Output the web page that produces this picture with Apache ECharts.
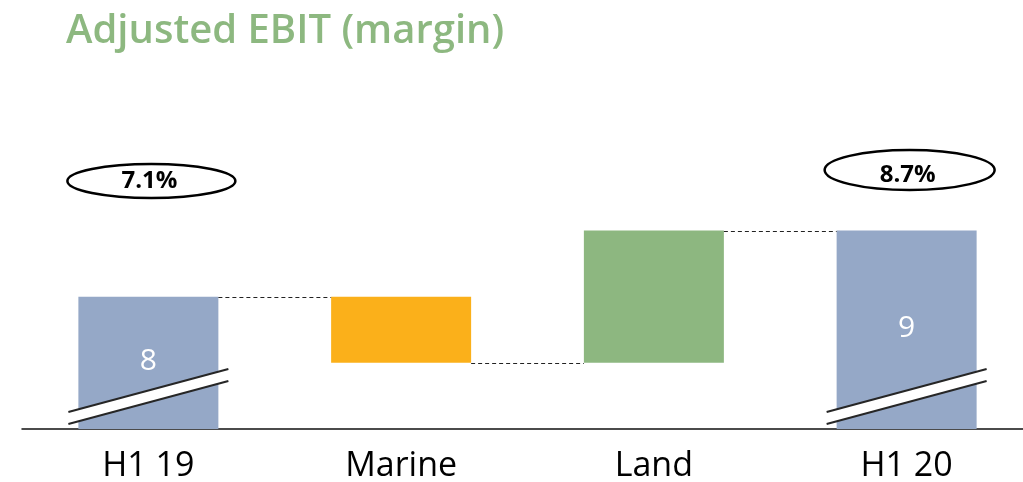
<!DOCTYPE html>
<html>
<head>
<meta charset="utf-8">
<title>Adjusted EBIT (margin)</title>
<script src="https://cdn.jsdelivr.net/npm/echarts@6/dist/echarts.min.js"></script>
<style>
  html, body { margin: 0; padding: 0; background: #ffffff; }
  #chart { width: 1023px; height: 482px; }
</style>
</head>
<body>
<div id="chart"></div>
<script>
// Bridge categories and values
const categories = ['H1 19', 'Marine', 'Land', 'H1 20'];
const totals = [8, null, null, 9];        // period totals (start / end)
const deltas = [null, -1, 2, null];       // segment contributions
const margins = ['7.1%', null, null, '8.7%'];

const FONT = '"Open Sans", "Noto Sans", sans-serif';
const COLOR_TOTAL = '#95A8C7';
const COLOR_DOWN = '#FBB01A';
const COLOR_UP = '#8DB780';
const AXIS_MIN = 6;
const BAR_W = 140;

// Build the waterfall: invisible base + visible segment for each category
const baseData = [];
const barData = [];
const levels = [];   // running level after each category
let level = 0;
categories.forEach((c, i) => {
  if (totals[i] != null) {
    level = totals[i];
    baseData.push(0);
    barData.push({ value: totals[i], itemStyle: { color: COLOR_TOTAL } });
  } else {
    const d = deltas[i];
    const next = level + d;
    baseData.push(Math.min(level, next));
    barData.push({ value: Math.abs(d), itemStyle: { color: d < 0 ? COLOR_DOWN : COLOR_UP } });
    level = next;
  }
  levels.push(level);
});

// Dashed connectors between neighbouring bars, at the running level
const connectorData = levels.slice(0, -1).map((v, i) => [i, v]);

// Axis break marks on the total bars
const breakData = categories.map((c, i) => i).filter(i => totals[i] != null).map(i => [i]);

// Margin badges above the total bars
const badgeData = categories.map((c, i) => i).filter(i => margins[i] != null).map(i => [i]);
const badgeLayout = { 0: { cy: 181, rx: 84, ry: 17, ty: 181 }, 3: { cy: 170, rx: 85, ry: 20, ty: 175 } };

const chart = echarts.init(document.getElementById('chart'), null, { renderer: 'canvas' });

chart.setOption({
  animation: false,
  backgroundColor: '#ffffff',
  title: {
    text: 'Adjusted EBIT (margin)',
    left: 61,
    top: 7,
    textStyle: { fontFamily: FONT, fontSize: 40, fontWeight: 600, color: '#8DB880' }
  },
  // the category band runs slightly past the right edge; the axis line is cut at the edge
  grid: { left: 22, right: -10, top: 32, bottom: 53, outerBoundsMode: 'none' },
  xAxis: {
    type: 'category',
    data: categories,
    axisLine: { lineStyle: { color: '#111111', width: 1.5 } },
    axisTick: { show: false },
    axisLabel: { fontFamily: FONT, fontSize: 34, color: '#000000', margin: 20 }
  },
  yAxis: {
    type: 'value',
    min: AXIS_MIN,
    max: 12,
    show: false,
    splitLine: { show: false }
  },
  series: [
    {
      name: 'base',
      type: 'bar',
      stack: 'bridge',
      barWidth: BAR_W,
      itemStyle: { color: 'transparent' },
      emphasis: { disabled: true },
      data: baseData,
      z: 1
    },
    {
      name: 'EBIT',
      type: 'bar',
      stack: 'bridge',
      barWidth: BAR_W,
      data: barData,
      label: {
        show: true,
        position: 'inside',
        fontFamily: FONT,
        fontSize: 30,
        color: '#ffffff',
        offset: [0, -1],
        formatter: p => (totals[p.dataIndex] != null ? String(totals[p.dataIndex]) : '')
      },
      z: 2
    },
    {
      name: 'connectors',
      type: 'custom',
      data: connectorData,
      silent: true,
      z: 3,
      renderItem: (params, api) => {
        const i = api.value(0);
        const v = api.value(1);
        const a = api.coord([i, v]);
        const b = api.coord([i + 1, v]);
        const y = Math.round(a[1]) + 0.5;
        return {
          type: 'line',
          shape: { x1: a[0] + BAR_W / 2, y1: y, x2: b[0] - BAR_W / 2, y2: y },
          style: { stroke: '#222222', lineWidth: 1, lineDash: [4, 3] }
        };
      }
    },
    {
      name: 'breaks',
      type: 'custom',
      data: breakData,
      silent: true,
      z: 4,
      renderItem: (params, api) => {
        const p = api.coord([api.value(0), AXIS_MIN]);
        const cx = p[0], by = p[1];
        const x1 = cx - 80, x2 = cx + 80;
        const u1 = by - 17, u2 = by - 60, l1 = by - 5, l2 = by - 48;
        return {
          type: 'group',
          children: [
            { type: 'polygon', shape: { points: [[x1, u1], [x2, u2], [x2, l2], [x1, l1]] }, style: { fill: '#ffffff' } },
            { type: 'line', shape: { x1: x1, y1: u1, x2: x2, y2: u2 }, style: { stroke: '#262626', lineWidth: 2 } },
            { type: 'line', shape: { x1: x1, y1: l1, x2: x2, y2: l2 }, style: { stroke: '#262626', lineWidth: 2 } }
          ]
        };
      }
    },
    {
      name: 'margin',
      type: 'custom',
      data: badgeData,
      silent: true,
      z: 5,
      renderItem: (params, api) => {
        const idx = api.value(0);
        const cx = api.coord([idx, AXIS_MIN])[0];
        const lay = badgeLayout[idx];
        return {
          type: 'group',
          children: [
            { type: 'ellipse', shape: { cx: cx + 3, cy: lay.cy, rx: lay.rx, ry: lay.ry }, style: { fill: '#ffffff', stroke: '#000000', lineWidth: 2.5 } },
            { type: 'text', x: cx + 1, y: lay.ty, style: { text: margins[idx], fontFamily: FONT, fontSize: 24, fontWeight: 'bold', fill: '#000000', align: 'center', verticalAlign: 'middle' } }
          ]
        };
      }
    }
  ]
});
</script>
</body>
</html>
